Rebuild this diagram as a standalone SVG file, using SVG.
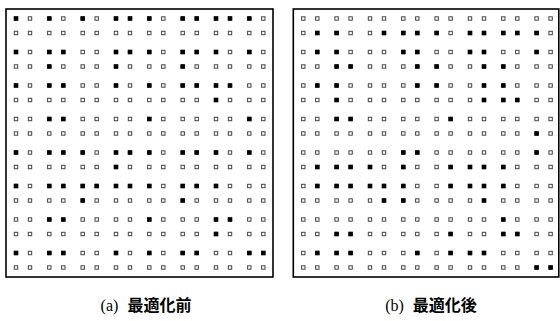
<svg xmlns="http://www.w3.org/2000/svg" xmlns:xlink="http://www.w3.org/1999/xlink" width="560" height="321" viewBox="0 0 560 321">
<style>
.frame{fill:none;stroke:#000;stroke-width:1.6}
.o{fill:#fff;stroke:#444;stroke-width:1}
.f{fill:#000}
.cap{font-size:16px;fill:#000}
.lat{font-family:"Liberation Serif",serif}
.cjk{font-family:"Noto Sans CJK JP","Noto Sans CJK SC",sans-serif;font-weight:bold}
</style>
<defs>
<rect id="b" class="o" x="-1.7" y="-1.7" width="3.4" height="3.4"/>
<rect id="a" class="f" x="-2.2" y="-2.2" width="4.4" height="4.4"/>
<g id="row">
<use href="#b" x="16"/><use href="#b" x="30"/><use href="#b" x="49.3"/><use href="#b" x="63.3"/><use href="#b" x="82.7"/><use href="#b" x="96.7"/><use href="#b" x="116"/><use href="#b" x="130"/><use href="#b" x="149.3"/><use href="#b" x="163.3"/><use href="#b" x="182.7"/><use href="#b" x="196.7"/><use href="#b" x="216"/><use href="#b" x="230"/><use href="#b" x="249.3"/><use href="#b" x="263.3"/>
</g>
<g id="grid">
<use href="#row" y="18.5"/><use href="#row" y="33"/><use href="#row" y="52"/><use href="#row" y="66.5"/><use href="#row" y="85.5"/><use href="#row" y="100"/><use href="#row" y="119"/><use href="#row" y="133.5"/><use href="#row" y="152.5"/><use href="#row" y="167"/><use href="#row" y="186"/><use href="#row" y="200.5"/><use href="#row" y="219.5"/><use href="#row" y="234"/><use href="#row" y="253"/><use href="#row" y="267.5"/>
</g>
</defs>
<g id="panel-a">
<rect class="frame" x="6" y="9" width="267" height="268"/>
<use href="#grid"/>
<g id="filled-a">
<use href="#a" x="16" y="18.5"/><use href="#a" x="49.3" y="18.5"/><use href="#a" x="82.7" y="18.5"/><use href="#a" x="116" y="18.5"/><use href="#a" x="130" y="18.5"/><use href="#a" x="149.3" y="18.5"/><use href="#a" x="182.7" y="18.5"/><use href="#a" x="196.7" y="18.5"/><use href="#a" x="216" y="18.5"/><use href="#a" x="230" y="18.5"/><use href="#a" x="249.3" y="18.5"/>
<use href="#a" x="16" y="52"/><use href="#a" x="49.3" y="52"/><use href="#a" x="63.3" y="52"/><use href="#a" x="116" y="52"/><use href="#a" x="130" y="52"/><use href="#a" x="149.3" y="52"/><use href="#a" x="182.7" y="52"/><use href="#a" x="196.7" y="52"/><use href="#a" x="216" y="52"/><use href="#a" x="249.3" y="52"/>
<use href="#a" x="49.3" y="66.5"/><use href="#a" x="116" y="66.5"/><use href="#a" x="182.7" y="66.5"/>
<use href="#a" x="16" y="85.5"/><use href="#a" x="49.3" y="85.5"/><use href="#a" x="63.3" y="85.5"/><use href="#a" x="116" y="85.5"/><use href="#a" x="149.3" y="85.5"/><use href="#a" x="182.7" y="85.5"/><use href="#a" x="196.7" y="85.5"/><use href="#a" x="216" y="85.5"/><use href="#a" x="230" y="85.5"/>
<use href="#a" x="216" y="100"/>
<use href="#a" x="49.3" y="119"/><use href="#a" x="63.3" y="119"/><use href="#a" x="149.3" y="119"/><use href="#a" x="249.3" y="119"/>
<use href="#a" x="16" y="152.5"/><use href="#a" x="49.3" y="152.5"/><use href="#a" x="63.3" y="152.5"/><use href="#a" x="82.7" y="152.5"/><use href="#a" x="116" y="152.5"/><use href="#a" x="130" y="152.5"/><use href="#a" x="149.3" y="152.5"/><use href="#a" x="182.7" y="152.5"/><use href="#a" x="196.7" y="152.5"/><use href="#a" x="216" y="152.5"/><use href="#a" x="249.3" y="152.5"/>
<use href="#a" x="116" y="167"/>
<use href="#a" x="16" y="186"/><use href="#a" x="49.3" y="186"/><use href="#a" x="63.3" y="186"/><use href="#a" x="82.7" y="186"/><use href="#a" x="96.7" y="186"/><use href="#a" x="116" y="186"/><use href="#a" x="130" y="186"/><use href="#a" x="149.3" y="186"/><use href="#a" x="182.7" y="186"/><use href="#a" x="196.7" y="186"/><use href="#a" x="216" y="186"/>
<use href="#a" x="82.7" y="200.5"/><use href="#a" x="182.7" y="200.5"/>
<use href="#a" x="49.3" y="219.5"/><use href="#a" x="63.3" y="219.5"/><use href="#a" x="149.3" y="219.5"/><use href="#a" x="216" y="219.5"/><use href="#a" x="230" y="219.5"/>
<use href="#a" x="216" y="234"/>
<use href="#a" x="16" y="253"/><use href="#a" x="49.3" y="253"/><use href="#a" x="63.3" y="253"/><use href="#a" x="116" y="253"/><use href="#a" x="149.3" y="253"/><use href="#a" x="182.7" y="253"/><use href="#a" x="196.7" y="253"/><use href="#a" x="249.3" y="253"/><use href="#a" x="263.3" y="253"/>
</g>
<text class="cap" x="146" y="311" text-anchor="middle"><tspan class="lat">(a)</tspan><tspan class="cjk" dx="9">最適化前</tspan></text>
</g>
<g id="panel-b">
<rect class="frame" x="293.3" y="9" width="265.5" height="268"/>
<g transform="translate(287.3,0)">
<use href="#grid"/>
<g id="filled-b">
<use href="#a" x="30" y="33"/><use href="#a" x="49.3" y="33"/><use href="#a" x="96.7" y="33"/><use href="#a" x="116" y="33"/><use href="#a" x="130" y="33"/><use href="#a" x="149.3" y="33"/><use href="#a" x="182.7" y="33"/><use href="#a" x="196.7" y="33"/><use href="#a" x="216" y="33"/><use href="#a" x="230" y="33"/><use href="#a" x="249.3" y="33"/>
<use href="#a" x="30" y="52"/><use href="#a" x="49.3" y="52"/><use href="#a" x="116" y="52"/><use href="#a" x="130" y="52"/><use href="#a" x="182.7" y="52"/><use href="#a" x="196.7" y="52"/><use href="#a" x="249.3" y="52"/>
<use href="#a" x="49.3" y="66.5"/><use href="#a" x="63.3" y="66.5"/><use href="#a" x="130" y="66.5"/><use href="#a" x="149.3" y="66.5"/><use href="#a" x="196.7" y="66.5"/><use href="#a" x="216" y="66.5"/>
<use href="#a" x="30" y="85.5"/><use href="#a" x="49.3" y="85.5"/><use href="#a" x="130" y="85.5"/><use href="#a" x="149.3" y="85.5"/><use href="#a" x="196.7" y="85.5"/><use href="#a" x="216" y="85.5"/>
<use href="#a" x="49.3" y="100"/><use href="#a" x="196.7" y="100"/><use href="#a" x="216" y="100"/><use href="#a" x="230" y="100"/>
<use href="#a" x="49.3" y="119"/><use href="#a" x="63.3" y="119"/><use href="#a" x="163.3" y="119"/>
<use href="#a" x="249.3" y="133.5"/>
<use href="#a" x="116" y="152.5"/><use href="#a" x="130" y="152.5"/><use href="#a" x="249.3" y="152.5"/>
<use href="#a" x="30" y="167"/><use href="#a" x="49.3" y="167"/><use href="#a" x="63.3" y="167"/><use href="#a" x="82.7" y="167"/><use href="#a" x="116" y="167"/><use href="#a" x="163.3" y="167"/><use href="#a" x="182.7" y="167"/><use href="#a" x="196.7" y="167"/><use href="#a" x="216" y="167"/>
<use href="#a" x="30" y="186"/><use href="#a" x="49.3" y="186"/><use href="#a" x="63.3" y="186"/><use href="#a" x="82.7" y="186"/><use href="#a" x="96.7" y="186"/><use href="#a" x="116" y="186"/><use href="#a" x="163.3" y="186"/><use href="#a" x="182.7" y="186"/><use href="#a" x="196.7" y="186"/><use href="#a" x="216" y="186"/>
<use href="#a" x="96.7" y="200.5"/><use href="#a" x="116" y="200.5"/><use href="#a" x="196.7" y="200.5"/>
<use href="#a" x="216" y="219.5"/>
<use href="#a" x="49.3" y="234"/><use href="#a" x="63.3" y="234"/><use href="#a" x="163.3" y="234"/><use href="#a" x="216" y="234"/><use href="#a" x="230" y="234"/>
<use href="#a" x="30" y="253"/><use href="#a" x="49.3" y="253"/><use href="#a" x="63.3" y="253"/><use href="#a" x="130" y="253"/><use href="#a" x="163.3" y="253"/><use href="#a" x="182.7" y="253"/><use href="#a" x="196.7" y="253"/>
<use href="#a" x="249.3" y="267.5"/><use href="#a" x="263.3" y="267.5"/>
</g>
</g>
<text class="cap" x="431" y="311" text-anchor="middle"><tspan class="lat">(b)</tspan><tspan class="cjk" dx="9">最適化後</tspan></text>
</g>
</svg>
